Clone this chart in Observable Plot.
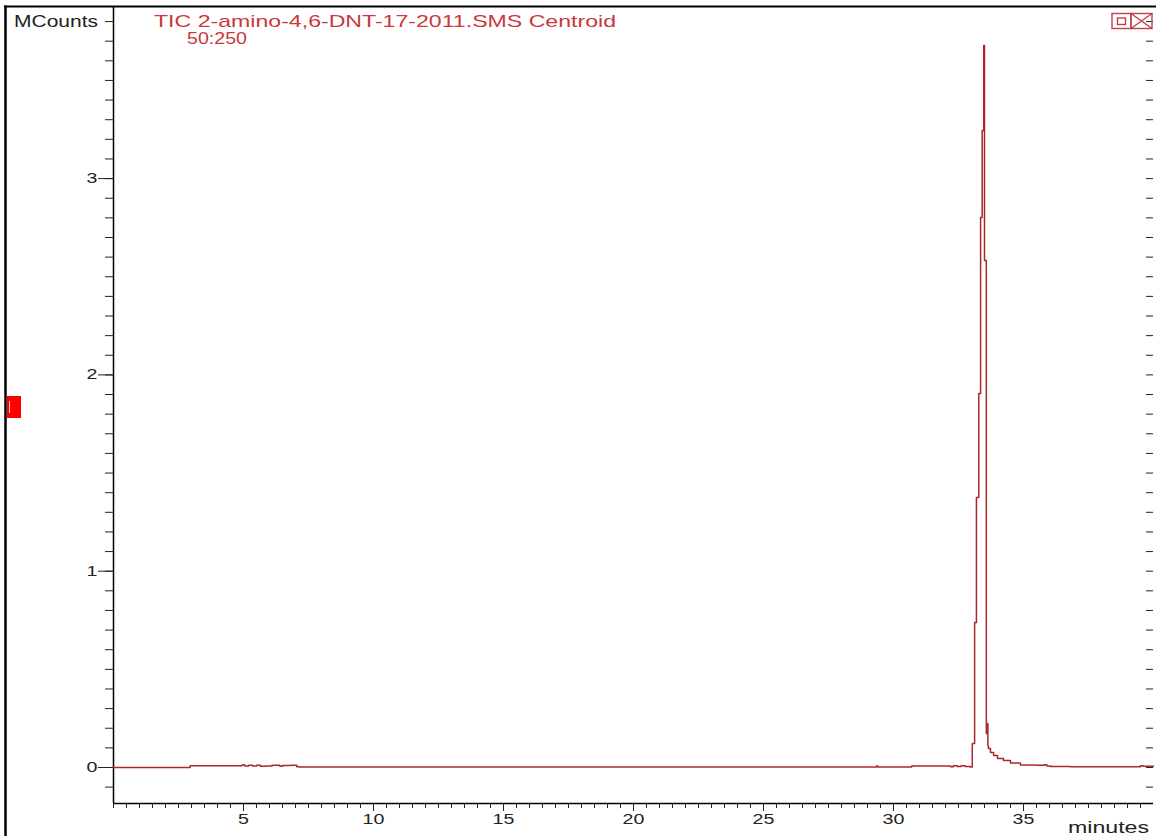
<!DOCTYPE html>
<html>
<head>
<meta charset="utf-8">
<script src="https://cdn.jsdelivr.net/npm/d3@7"></script>
<script src="https://cdn.jsdelivr.net/npm/@observablehq/plot@0.6"></script>
<style>
  html, body { margin: 0; padding: 0; background: #fff; }
  #chart { width: 1156px; height: 836px; overflow: hidden; }
  #chart svg { display: block; font-family: "Liberation Sans", Arial, sans-serif; }
</style>
</head>
<body>
<div id="chart"></div>
<script>
// Total ion chromatogram: retention time (minutes) vs. intensity (MCounts)
const minutes = [
  0.00, 2.95, 3.00, 4.95, 5.05, 5.20, 5.35, 5.50, 5.65, 5.85, 6.10, 6.40, 6.50, 6.80, 7.05, 7.15,
  10.0, 15.0, 20.0, 25.0, 29.35, 29.40, 29.50, 30.70, 30.75, 32.20, 32.30, 32.45, 32.60, 32.75, 32.95,
  33.03, 33.12, 33.19, 33.28, 33.35, 33.41, 33.47, 33.50, 33.57, 33.62, 33.63, 33.65,
  33.73, 33.85, 34.00, 34.23, 34.50, 34.88, 35.46, 35.80, 35.90, 36.04, 36.80, 38.00, 39.50, 39.60, 40.00
];
const mcounts = [
  0.000, 0.000, 0.009, 0.009, 0.013, 0.008, 0.012, 0.007, 0.011, 0.006, 0.007, 0.011, 0.006, 0.010, 0.011, 0.004,
  0.003, 0.003, 0.003, 0.003, 0.003, 0.008, 0.003, 0.003, 0.008, 0.008, 0.004, 0.009, 0.005, 0.009, 0.005,
  0.002, 0.122, 0.739, 1.376, 1.905, 2.802, 3.245, 3.678, 2.583, 0.173, 0.224, 0.112,
  0.097, 0.076, 0.061, 0.046, 0.036, 0.023, 0.013, 0.011, 0.014, 0.008, 0.005, 0.004, 0.004, 0.009, 0.006
];
const xTickLabels = [5, 10, 15, 20, 25, 30, 35];
const yTickLabels = [0, 1, 2, 3];
const titleLines = ["TIC 2-amino-4,6-DNT-17-2011.SMS Centroid", "50:250"];
const yUnit = "MCounts";
const xUnit = "minutes";

const trace = minutes.map((t, i) => ({t, v: mcounts[i]}));

const W = 1156, H = 836;
const margin = {top: 7, right: 3, bottom: 33, left: 113};
const xDomain = [0, 40];
const yDomain = [-0.1834, 3.8716];
const innerW = W - margin.left - margin.right;
const innerH = H - margin.top - margin.bottom;
const xMinor = d3.range(0, 40, 0.5);
const yMinor = d3.range(-1, 39).map(d => d / 10);

const traceColor = "#aa272c";
const labelRed = "#c8383c";
const axisColor = "#222";

const svgNode = Plot.plot({
  width: W,
  height: H,
  marginTop: margin.top,
  marginRight: margin.right,
  marginBottom: margin.bottom,
  marginLeft: margin.left,
  style: {background: "#fff", overflow: "visible"},
  x: {domain: xDomain, axis: null},
  y: {domain: yDomain, axis: null},
  marks: [
    // axis lines
    Plot.ruleX([xDomain[0]], {stroke: "#000", strokeWidth: 1.5}),
    Plot.ruleY([yDomain[0]], {stroke: "#000", strokeWidth: 1.5}),
    // left axis: minor ticks every 0.1 (outside), longer ticks at labelled values
    Plot.tickY(yMinor, {y: d => d, insetLeft: -8, insetRight: innerW, stroke: axisColor}),
    Plot.tickY(yTickLabels, {y: d => d, insetLeft: -15, insetRight: innerW, stroke: axisColor}),
    Plot.text(yTickLabels, {y: d => d, text: d => String(d), frameAnchor: "left", dx: -16, textAnchor: "end", fontSize: 14, fill: axisColor}),
    // right edge: inward ticks
    Plot.tickY(yMinor, {y: d => d, insetLeft: innerW - 7, stroke: axisColor}),
    // bottom axis: minor ticks every 0.5 min, longer ticks at labelled values
    Plot.tickX(xMinor, {x: d => d, insetTop: innerH, insetBottom: -5, stroke: axisColor}),
    Plot.tickX(xTickLabels, {x: d => d, insetTop: innerH, insetBottom: -8, stroke: axisColor}),
    Plot.text(xTickLabels, {x: d => d, text: d => String(d), frameAnchor: "bottom", dy: 11, lineAnchor: "top", fontSize: 14, fill: axisColor}),
    // chromatogram trace
    Plot.line(trace, {x: "t", y: "v", curve: "step-before", stroke: traceColor, strokeWidth: 1.5})
  ]
});

document.getElementById("chart").append(svgNode);
const svg = d3.select(svgNode);

// the instrument font is a wide sans, emulated by stretching glyphs
function stretchTo(node, target) {
  node.setAttribute("textLength", target);
  node.setAttribute("lengthAdjust", "spacingAndGlyphs");
}

// widen tick labels
svg.selectAll("g[aria-label='text'] text")
  .each(function() {
    const w = this.getComputedTextLength();
    if (w > 0) stretchTo(this, w * 1.4);
  });

// window frame
svg.append("line").attr("x1", 4).attr("x2", W).attr("y1", 6.5).attr("y2", 6.5)
  .attr("stroke", "#000").attr("stroke-width", 2);
svg.append("line").attr("x1", 5.5).attr("x2", 5.5).attr("y1", 5.5).attr("y2", H)
  .attr("stroke", "#000").attr("stroke-width", 2.5);

function addText(str, x, y, size, fill, width) {
  const t = svg.append("text").attr("x", x).attr("y", y)
    .attr("text-anchor", "start")
    .attr("font-size", size).attr("fill", fill).text(str);
  stretchTo(t.node(), width);
  return t;
}

addText(titleLines[0], 154, 27, 17, labelRed, 462);
addText(titleLines[1], 187, 44, 16, labelRed, 60);
addText(yUnit, 14, 27, 16, axisColor, 84);
addText(xUnit, 1068, 833, 16, axisColor, 81);

// window buttons (restore / close)
const btn = svg.append("g").attr("fill", "none").attr("stroke", "#c0404c").attr("stroke-width", 1.4);
btn.append("rect").attr("x", 1112).attr("y", 13.5).attr("width", 19).attr("height", 15);
btn.append("rect").attr("x", 1117.5).attr("y", 18).attr("width", 8).attr("height", 6.5);
btn.append("rect").attr("x", 1131).attr("y", 13.5).attr("width", 21).attr("height", 15);
btn.append("path").attr("d", "M1131,13.5L1152,28.5M1131,28.5L1152,13.5");

// trace-colour marker at the left edge
svg.append("rect").attr("x", 7).attr("y", 396).attr("width", 14).attr("height", 22).attr("fill", "#ff0000");
svg.append("line").attr("x1", 9.5).attr("x2", 9.5).attr("y1", 401).attr("y2", 413)
  .attr("stroke", "#ffc8c8").attr("stroke-width", 1);
</script>
</body>
</html>
